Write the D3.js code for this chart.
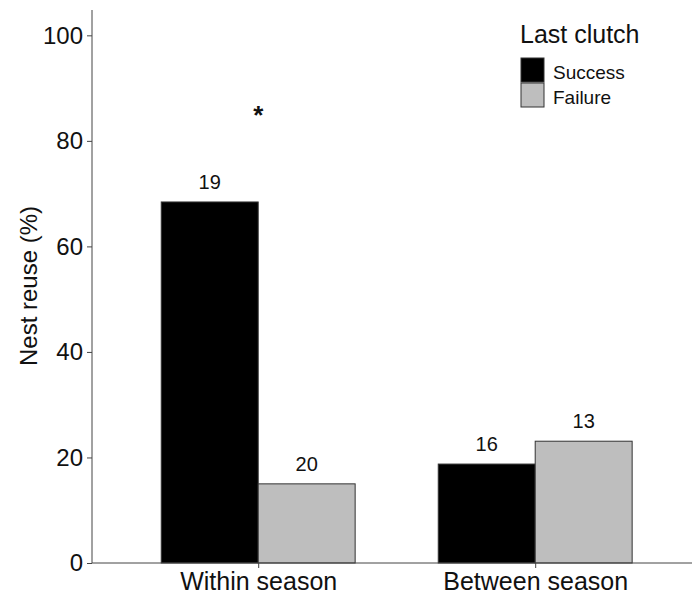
<!DOCTYPE html>
<html>
<head>
<meta charset="utf-8">
<script src="https://cdn.jsdelivr.net/npm/d3@7"></script>
<style>
  html, body { margin: 0; padding: 0; background: #fff; }
  svg { display: block; font-family: "Liberation Sans", Arial, sans-serif; }
</style>
</head>
<body>
<svg id="chart" width="692" height="594"></svg>
<script>
// Nest reuse by period and outcome of the previous clutch
const periods = ["Within season", "Between season"];
const outcomes = ["Success", "Failure"];
const successValues = [68.42, 18.75];
const failureValues = [15.0, 23.08];
const sampleSizes = [[19, 20], [16, 13]];
const yTicks = [0, 20, 40, 60, 80, 100];
const significance = [{ period: "Within season", value: 86, mark: "*" }];

const fills = { Success: "#000000", Failure: "#bebebe" };
const FONT = "Liberation Sans, Arial, sans-serif";

const svg = d3.select("#chart");
const plotLeft = 92, plotTop = 10, plotBottom = 563;

// one category step in pixels; categories sit 0.6 steps in from the axis
const unit = 277;
const cx = d3.scalePoint().domain(periods).range([plotLeft + 0.6 * unit, plotLeft + 1.6 * unit]);
const dodge = d3.scaleBand().domain(outcomes).range([-0.35 * unit, 0.35 * unit]);

const y = d3.scaleLinear().domain([0, 104.8]).range([plotBottom, plotTop]);

const rows = [];
periods.forEach((p, i) => {
  rows.push({ period: p, outcome: "Success", value: successValues[i], n: sampleSizes[i][0] });
  rows.push({ period: p, outcome: "Failure", value: failureValues[i], n: sampleSizes[i][1] });
});

// bars
svg.append("g").selectAll("rect").data(rows).join("rect")
  .attr("x", d => cx(d.period) + dodge(d.outcome))
  .attr("y", d => y(d.value))
  .attr("width", dodge.bandwidth())
  .attr("height", d => y(0) - y(d.value))
  .attr("fill", d => fills[d.outcome])
  .attr("stroke", "#333")
  .attr("stroke-width", 1);

// sample size labels
svg.append("g").selectAll("text").data(rows).join("text")
  .attr("x", d => cx(d.period) + dodge(d.outcome) + dodge.bandwidth() / 2)
  .attr("y", d => y(d.value) - 13)
  .attr("text-anchor", "middle")
  .attr("font-size", 20)
  .attr("fill", "#111")
  .text(d => d.n);

// significance marker
svg.append("g").selectAll("text").data(significance).join("text")
  .attr("x", d => cx(d.period))
  .attr("y", d => y(d.value) + 15)
  .attr("text-anchor", "middle")
  .attr("font-size", 26)
  .attr("font-weight", "bold")
  .attr("fill", "#111")
  .text(d => d.mark);

// y axis
const yAxis = svg.append("g").attr("transform", `translate(${plotLeft},0)`)
  .call(d3.axisLeft(y).tickValues(yTicks).tickSize(5).tickPadding(4));
yAxis.select(".domain").attr("d", `M0,${plotBottom}V${plotTop}`).attr("stroke", "#444");
yAxis.selectAll(".tick line").attr("stroke", "#444");
yAxis.selectAll(".tick text").attr("font-size", 24).attr("fill", "#111")
  .attr("font-family", FONT);

// x axis
const xAxis = svg.append("g").attr("transform", `translate(0,${plotBottom})`)
  .call(d3.axisBottom(cx).tickSize(5).tickPadding(4));
xAxis.select(".domain").attr("d", `M${plotLeft},0H692`).attr("stroke", "#444");
xAxis.selectAll(".tick line").attr("stroke", "#444");
xAxis.selectAll(".tick text").attr("font-size", 25).attr("fill", "#111")
  .attr("font-family", FONT);

// y title
svg.append("text")
  .attr("transform", `translate(37,286) rotate(-90)`)
  .attr("text-anchor", "middle")
  .attr("font-size", 24)
  .attr("fill", "#111")
  .text("Nest reuse (%)");

// legend
const legend = svg.append("g").attr("transform", "translate(520,0)");
legend.append("text").attr("x", 0).attr("y", 43)
  .attr("font-size", 25).attr("fill", "#111").text("Last clutch");
outcomes.forEach((o, i) => {
  legend.append("rect")
    .attr("x", 1).attr("y", 58 + i * 25)
    .attr("width", 23).attr("height", 24)
    .attr("fill", fills[o]).attr("stroke", "#333").attr("stroke-width", 1);
  legend.append("text")
    .attr("x", 33).attr("y", 79 + i * 25)
    .attr("font-size", 19).attr("fill", "#111").text(o);
});
</script>
</body>
</html>
